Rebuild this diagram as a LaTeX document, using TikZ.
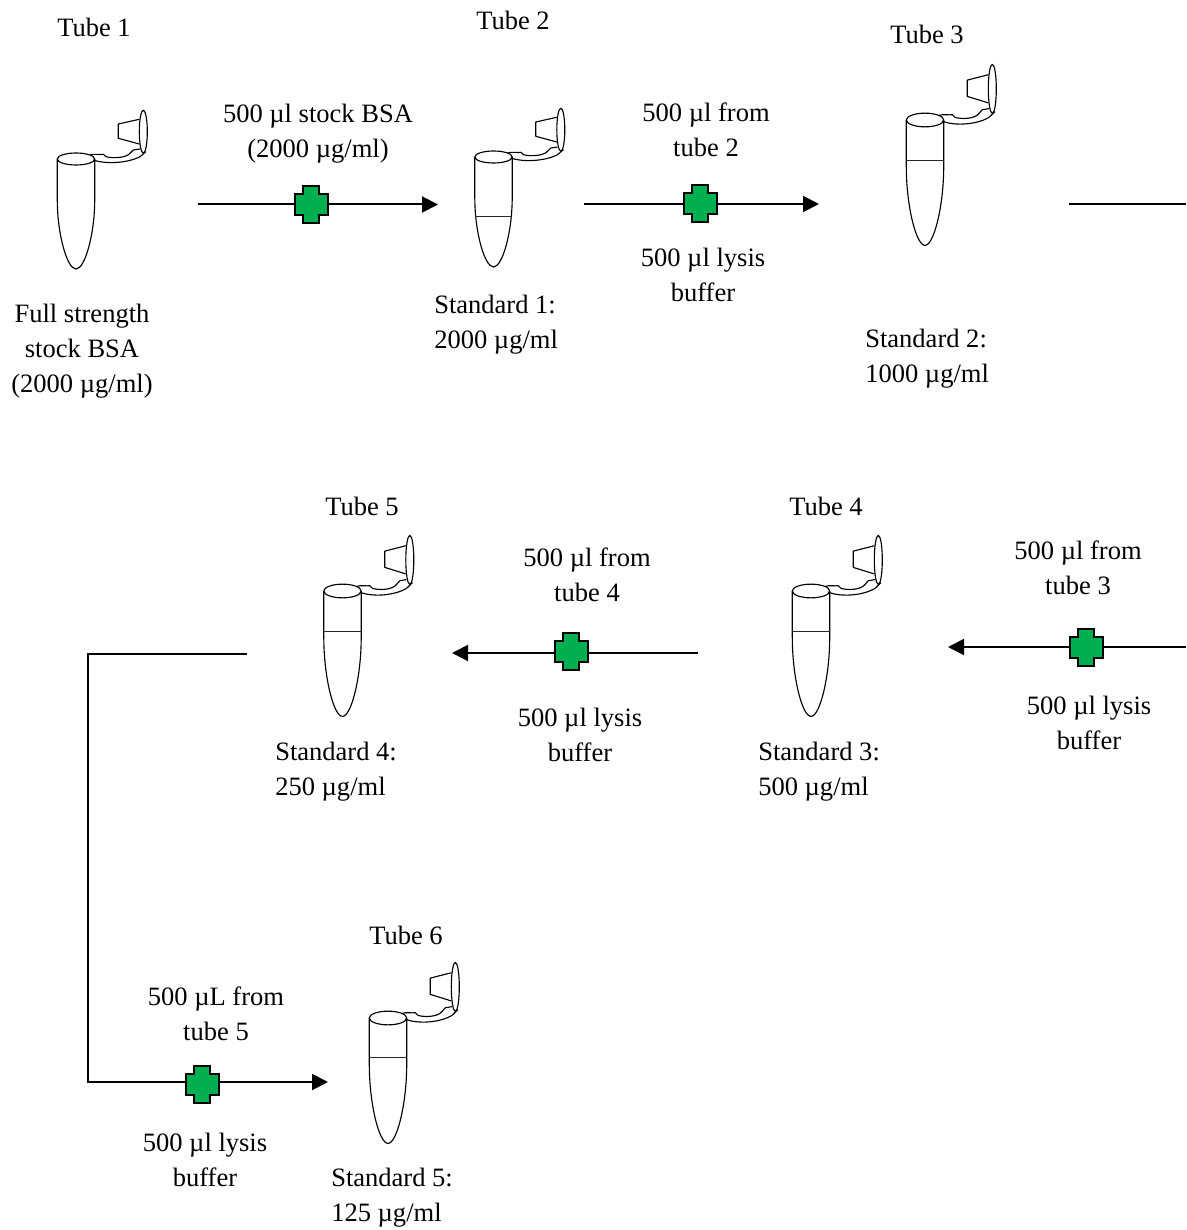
\documentclass[tikz,border=0pt]{standalone}
\usepackage{fontspec}
\setmainfont{Liberation Serif}
\usetikzlibrary{arrows.meta}
\definecolor{plusgreen}{HTML}{00B050}
\tikzset{
  x=0.75pt,y=-0.75pt,
  lab/.style={inner sep=0pt,align=center,font=\fontsize{19.9pt}{26.3pt}\selectfont},
  labl/.style={inner sep=0pt,align=left,anchor=west,font=\fontsize{19.9pt}{26.3pt}\selectfont},
  conn/.style={line width=1.5pt},
  arr/.style={conn,-{Triangle[length=12pt,width=12pt]}},
  tubeline/.style={line width=0.85pt,line join=round},
  pics/plusmark/.style={code={
    \draw[line width=1.5pt,fill=plusgreen,line join=miter]
      (-8,-18.5) -- (8,-18.5) -- (8,-10.5) -- (16.5,-10.5) -- (16.5,10.5) -- (8,10.5)
      -- (8,18.5) -- (-8,18.5) -- (-8,10.5) -- (-16.5,10.5) -- (-16.5,-10.5) -- (-8,-10.5) -- cycle;
  }},
  pics/tube/.style={code={
    \draw[tubeline] (-18.7,0) -- (-18.7,41) .. controls (-18.7,75) and (-9,110) .. (0,110)
      .. controls (9,110) and (18.7,75) .. (18.7,41) -- (18.7,0);
    \draw[tubeline] (0,0) ellipse [x radius=18.7,y radius=6];
    \draw[tubeline] (14,-4) .. controls (19,-5.5) and (24,-4) .. (27.3,-4.7)
      -- (30,-2.3) .. controls (37,-0.5) and (50,-1) .. (54,-5.7)
      -- (57.3,-9) -- (64,-10);
    \draw[tubeline] (17.3,1) .. controls (30,5.5) and (52,4) .. (64,-2.3) -- (70,-7.3);
    \draw[tubeline] (67.3,-27.3) ellipse [x radius=4,y radius=21.5];
    \draw[tubeline] (63.3,-39.7) -- (42.3,-35) -- (42.3,-20.7) -- (63.3,-15);
  }},
  pics/level/.style={code={
    \draw[line width=0.7pt,black!85] (-18.7,0) -- (18.7,0);
  }},
}
\begin{document}
\begin{tikzpicture}
\useasboundingbox (0,0) rectangle (1186,1230);
% tubes
\pic (t1) at (76,159) {tube};
\pic (t2) at (493.5,157) {tube};
\pic (l2) at (493.5,216) {level};
\pic[yscale=1.14] (t3) at (925,120) {tube};
\pic (l3) at (925,160) {level};
\pic[yscale=1.14] (t4) at (811,591) {tube};
\pic (l4) at (811,631) {level};
\pic[yscale=1.14] (t5) at (342.5,591) {tube};
\pic (l5) at (342.5,631) {level};
\pic[yscale=1.14] (t6) at (388,1018) {tube};
\pic (l6) at (388,1057) {level};
% connector ends
\coordinate (a1s) at (198,204.5);
\coordinate (a1e) at (438,204.5);
\coordinate (a2s) at (584,204);
\coordinate (a2e) at (819,204);
\coordinate (a3s) at (1069,204);
\coordinate (a3e) at (1186,204);
\coordinate (a4s) at (1186,647);
\coordinate (a4e) at (948,647);
\coordinate (a5s) at (698,653);
\coordinate (a5e) at (452,653);
\coordinate (a6s) at (247,654);
\coordinate (a6b) at (88,654);
\coordinate (a6c) at (88,1082);
\coordinate (a6e) at (328,1082);
\draw[arr] (a1s) -- (a1e);
\draw[arr] (a2s) -- (a2e);
\draw[conn] (a3s) -- (a3e);
\draw[arr] (a4s) -- (a4e);
\draw[arr] (a5s) -- (a5e);
\draw[arr] (a6s) -- (a6b) -- (a6c) -- (a6e);
% valves
\pic (p1) at (311,204.5) {plusmark};
\pic (p2) at (700,204) {plusmark};
\pic (p3) at (1086,647) {plusmark};
\pic (p4) at (571,651) {plusmark};
\pic (p5) at (202,1084) {plusmark};
% labels
\node[lab] (n1) at (94,27) {Tube 1};
\node[lab] (n2) at (513,20) {Tube 2};
\node[lab] (n3) at (927,34) {Tube 3};
\node[lab] (n4) at (826,506) {Tube 4};
\node[lab] (n5) at (362,506) {Tube 5};
\node[lab] (n6) at (406,935) {Tube 6};
\node[lab] (d1) at (82,351) {Full strength\\stock BSA\\(2000 µg/ml)};
\node[lab] (d2) at (318,134) {500 µl stock BSA\\(2000 µg/ml)};
\node[labl] (s1) at (434,324.5) {Standard 1:\\2000 µg/ml};
\node[lab] (d3) at (706,129.5) {500 µl from\\tube 2};
\node[lab] (d4) at (703,274.5) {500 µl lysis\\buffer};
\node[labl] (s2) at (865,358.5) {Standard 2:\\1000 µg/ml};
\node[lab] (d5) at (1078,567.5) {500 µl from\\tube 3};
\node[lab] (d6) at (1089,723) {500 µl lysis\\buffer};
\node[labl] (s3) at (758,772) {Standard 3:\\500 µg/ml};
\node[lab] (d7) at (587,575) {500 µl from\\tube 4};
\node[lab] (d8) at (580,734.5) {500 µl lysis\\buffer};
\node[labl] (s4) at (275,772) {Standard 4:\\250 µg/ml};
\node[lab] (d9) at (216,1013.5) {500 µL from\\tube 5};
\node[lab] (d10) at (205,1159.5) {500 µl lysis\\buffer};
\node[labl] (s5) at (331,1197.5) {Standard 5:\\125 µg/ml};
\end{tikzpicture}
\end{document}
